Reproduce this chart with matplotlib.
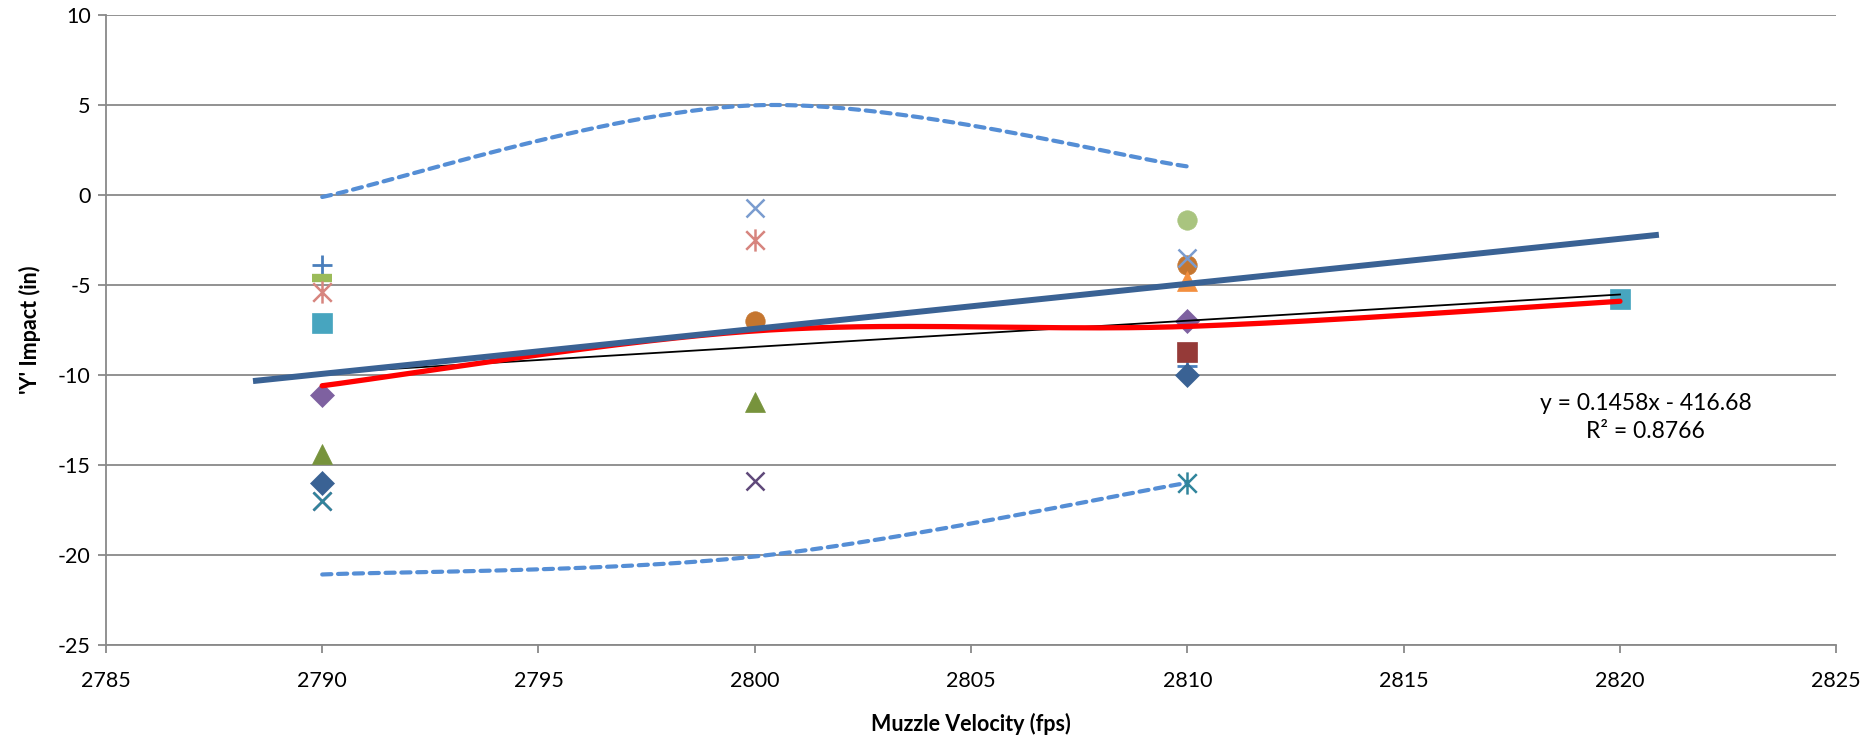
import numpy as np
import matplotlib
matplotlib.use("Agg")
import matplotlib.pyplot as plt
from matplotlib.path import Path

plt.rcParams['font.family'] = ['Lato', 'DejaVu Sans']
plt.rcParams['axes.unicode_minus'] = False

# Individual shot impacts, grouped by marker style
plus_blue_x, plus_blue_y = [2790, 2810], [-3.9, -9.5]
dash_green_x, dash_green_y = [2790], [-4.6]
ast_pink_x, ast_pink_y = [2790, 2800], [-5.4, -2.5]
sq_teal_x, sq_teal_y = [2790, 2820], [-7.1, -5.8]
dia_purple_x, dia_purple_y = [2790, 2810], [-11.1, -7.0]
tri_olive_x, tri_olive_y = [2790, 2800], [-14.4, -11.5]
dia_navy_x, dia_navy_y = [2790, 2810], [-16.0, -10.0]
x_purple_x, x_purple_y = [2790, 2800], [-17.0, -15.9]
x_teal_x, x_teal_y = [2790], [-17.0]
x_light_x, x_light_y = [2800, 2810], [-0.7, -3.5]
circ_orange_x, circ_orange_y = [2800, 2810], [-7.0, -3.9]
circ_green_x, circ_green_y = [2810], [-1.4]
tri_orange_x, tri_orange_y = [2810], [-4.8]
sq_red_x, sq_red_y = [2810], [-8.7]
ast_teal_x, ast_teal_y = [2810], [-16.0]

# Group means and the spread envelope
mean_x = [2790, 2800, 2810, 2820]
mean_y = [-10.6, -7.55, -7.3, -5.9]
upper_x = [2790, 2800, 2810]
upper_y = [-0.1, 5.0, 1.6]
lower_x = [2790, 2800, 2810]
lower_y = [-21.1, -20.1, -16.0]

# Trend lines
fit_slope, fit_intercept, fit_r2 = 0.1458, -416.68, 0.8766
fit_range = [2790, 2820]
trend_x = [2788.4, 2820.9]
trend_y = [-10.34, -2.2]

x_ticks = [2785, 2790, 2795, 2800, 2805, 2810, 2815, 2820, 2825]
y_ticks = [-25, -20, -15, -10, -5, 0, 5, 10]


def smooth(xs, ys, n=60):
    """Bezier smoothing through the points (spreadsheet-style smoothed line)."""
    p = np.column_stack([xs, ys]).astype(float)
    m = len(p)
    out = []
    for i in range(m - 1):
        p0 = p[max(i - 1, 0)]
        p1 = p[i]
        p2 = p[i + 1]
        p3 = p[min(i + 2, m - 1)]
        c1 = p1 + (p2 - p0) / 6.0
        c2 = p2 - (p3 - p1) / 6.0
        t = np.linspace(0, 1, n)[:, None]
        seg = ((1 - t) ** 3) * p1 + 3 * ((1 - t) ** 2) * t * c1 + 3 * (1 - t) * t ** 2 * c2 + t ** 3 * p2
        out.append(seg if i == 0 else seg[1:])
    s = np.vstack(out)
    return s[:, 0], s[:, 1]


asterisk = Path([(-1, -1), (1, 1), (-1, 1), (1, -1), (0, -1.2), (0, 1.2)],
                [Path.MOVETO, Path.LINETO, Path.MOVETO, Path.LINETO, Path.MOVETO, Path.LINETO])

fig = plt.figure(figsize=(18.68, 7.35), dpi=100)
ax = fig.add_axes([0.0567, 0.123, 0.9263, 0.856])

# envelope
ux, uy = smooth(upper_x, upper_y)
lx, ly = smooth(lower_x, lower_y)
for xx, yy in ((ux, uy), (lx, ly)):
    ax.plot(xx, yy, color='#558ED5', lw=3.0, dashes=(2.2, 1.6),
            dash_capstyle='round', zorder=3)


def pts(x, y, marker, color, ms, mew=1.6, filled=True, z=5):
    if filled:
        ax.plot(x, y, ls='none', marker=marker, ms=ms, color=color,
                mec=color, mew=0.5, zorder=z)
    else:
        ax.plot(x, y, ls='none', marker=marker, ms=ms, color=color,
                mec=color, mew=mew, zorder=z)


pts(plus_blue_x, plus_blue_y, '+', '#4A7EBB', 15, mew=2.0, filled=False)
pts(dash_green_x, dash_green_y, '_', '#9BBB59', 15, mew=6, filled=False)
pts(ast_pink_x, ast_pink_y, asterisk, '#D7857F', 16, mew=1.8, filled=False)
pts(sq_teal_x, sq_teal_y, 's', '#47A5BF', 14)
pts(dia_purple_x, dia_purple_y, 'D', '#7E61A0', 12.5)
pts(tri_olive_x, tri_olive_y, '^', '#77933C', 15)
pts(dia_navy_x, dia_navy_y, 'D', '#3A6294', 12.5)
pts(x_purple_x, x_purple_y, 'x', '#5F497A', 13, mew=1.8, filled=False)
pts(x_teal_x, x_teal_y, 'x', '#31859C', 13, mew=1.8, filled=False)
pts(circ_green_x, circ_green_y, 'o', '#A9C47F', 14)
pts(circ_orange_x, circ_orange_y, 'o', '#C5762F', 14)
pts(tri_orange_x, tri_orange_y, '^', '#F38F3E', 15)
pts(x_light_x, x_light_y, 'x', '#7A9CCF', 13, mew=1.8, filled=False)
pts(sq_red_x, sq_red_y, 's', '#953A38', 14)
pts(ast_teal_x, ast_teal_y, asterisk, '#31859C', 16, mew=1.8, filled=False)

# trend lines and mean curve
fx = np.array(fit_range, dtype=float)
ax.plot(fx, fit_slope * fx + fit_intercept, color='black', lw=1.3, zorder=6)
mx, my = smooth(mean_x, mean_y)
ax.plot(mx, my, color='#FF0000', lw=3.8, solid_capstyle='round', zorder=7)
ax.plot(trend_x, trend_y, color='#3A6294', lw=4.3, solid_capstyle='butt', zorder=8)

ax.text(2820.6, -12.35, f"y = {fit_slope}x - {abs(fit_intercept)}\nR² = {fit_r2}",
        ha='center', va='center', multialignment='center', fontsize=16.5,
        linespacing=1.4, zorder=9)

ax.set_xlim(2785, 2825)
ax.set_ylim(-25, 10)
ax.set_xticks(x_ticks)
ax.set_yticks(y_ticks)
ax.grid(axis='y', color='#898989', lw=1.3, zorder=0)
ax.set_axisbelow(True)
for s in ('top', 'right'):
    ax.spines[s].set_visible(False)
for s in ('left', 'bottom'):
    ax.spines[s].set_color('#898989')
    ax.spines[s].set_linewidth(1.3)
ax.tick_params(axis='both', direction='out', length=6, width=1.3,
               color='#898989', labelsize=15.5, pad=5)
ax.tick_params(axis='x', pad=13)
ax.set_xlabel('Muzzle Velocity (fps)', fontsize=15.5, fontweight='bold', labelpad=16)
ax.set_ylabel("'Y' Impact (in)", fontsize=15.5, fontweight='bold', labelpad=12)

fig.savefig('out.png', dpi=100)
